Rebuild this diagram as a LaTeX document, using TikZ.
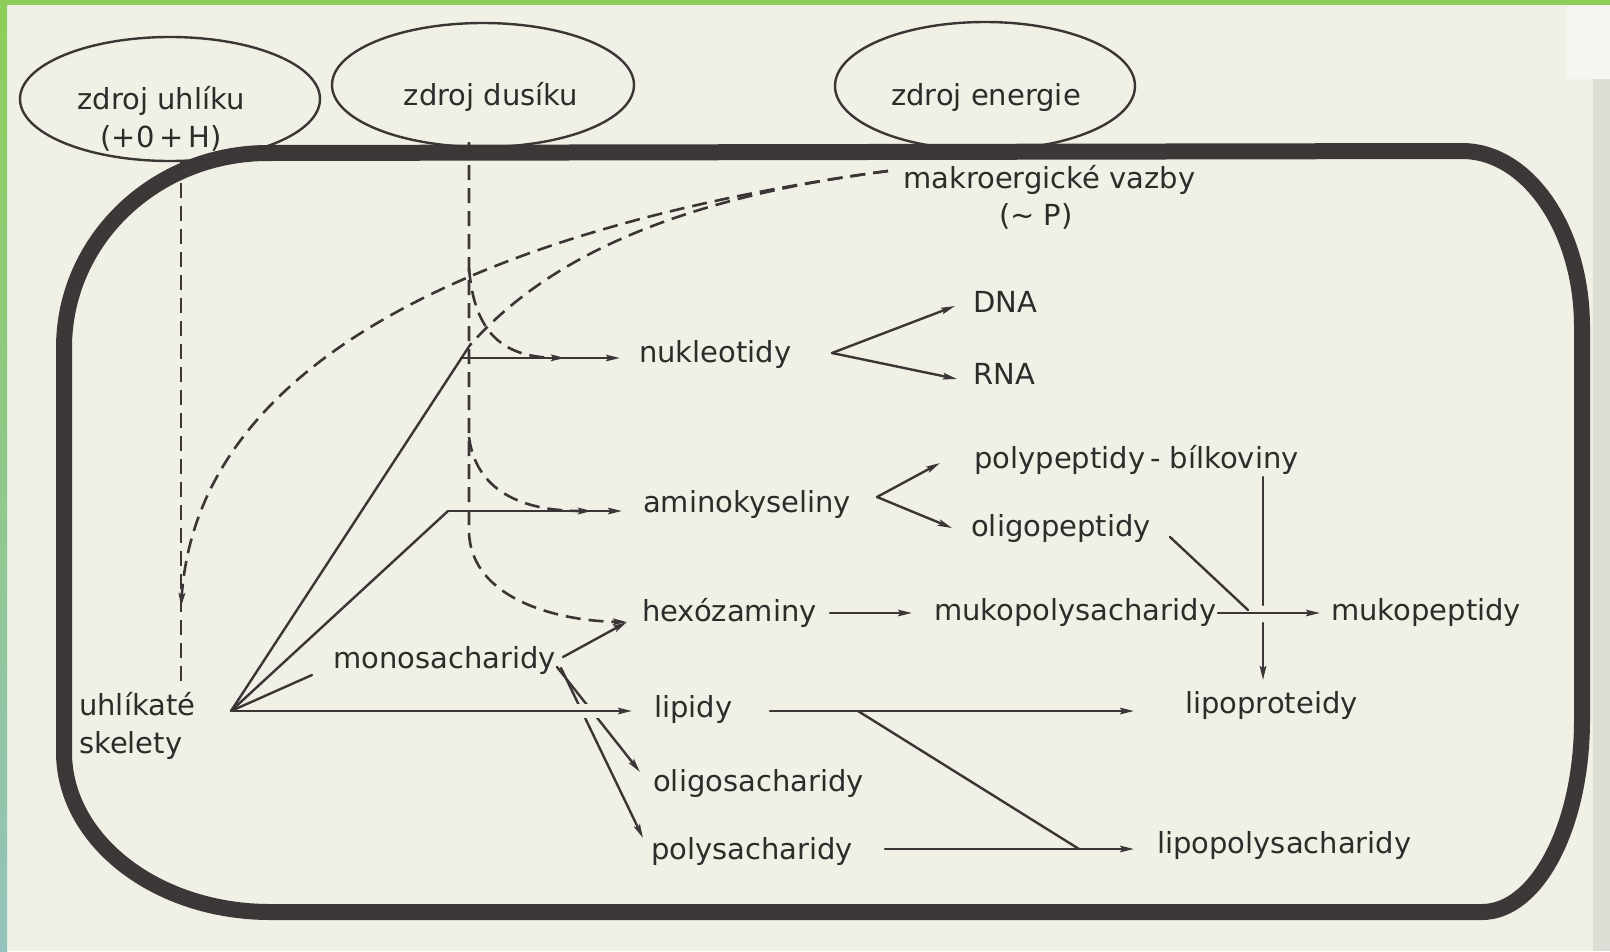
\documentclass[tikz,border=0pt]{standalone}
\usepackage{fontspec}
\setmainfont{DejaVu Sans}
\usetikzlibrary{arrows.meta,shapes.geometric}
\definecolor{bg}{HTML}{F0F0E6}
\definecolor{ink}{HTML}{3A3636}
\definecolor{cellc}{HTML}{3C3838}
\definecolor{txt}{HTML}{2E2B2B}
\definecolor{frameg}{HTML}{8DCE58}
\definecolor{framet}{HTML}{93C2BC}
\definecolor{edgec}{HTML}{DCDDD4}
\definecolor{edgel}{HTML}{F6F6F0}
\begin{document}
\begin{tikzpicture}[x=1pt,y=-1pt,
  lbl/.style={inner sep=0pt, anchor=west, text=txt, font=\fontsize{29}{38}\selectfont, text height=22pt, text depth=7pt},
  lbltwo/.style={inner sep=0pt, text=txt, font=\fontsize{29}{38}\selectfont},
  ln/.style={draw=ink, line width=2.4pt, line cap=round},
  flow/.style={ln, -{Stealth[length=14pt,width=6.5pt,inset=2.5pt]}},
  dln/.style={draw=ink, line width=2.6pt, dash pattern=on 15pt off 8pt},
  dflow/.style={dln, -{Stealth[length=14pt,width=6.5pt,inset=2.5pt]}},
  src/.style={ellipse, draw=ink, line width=2.4pt, inner sep=0pt},
  cell/.style={draw=cellc, line width=16pt, line join=round}
]
\useasboundingbox (0,0) rectangle (1610,951);
\fill[bg] (0,0) rectangle (1610,951);
\fill[edgec] (1593,0) rectangle (1610,951);
\fill[edgel] (1567,0) rectangle (1610,79);
\fill[frameg] (0,0) rectangle (1610,5);
\shade[top color=frameg, bottom color=framet] (0,0) rectangle (7,951);

% cell outline
\draw[cell] (64,348) .. controls (64,240) and (155,153) .. (268,153)
  -- (1462,151) .. controls (1528,151) and (1582,230) .. (1582,327)
  -- (1582,720) .. controls (1582,826) and (1537,912) .. (1482,912)
  -- (270,912) .. controls (156,912) and (64,840) .. (64,752) -- cycle;

% sources
\node[src, minimum width=300pt, minimum height=124pt] (E1) at (170,99) {};
\node[src, minimum width=302pt, minimum height=124pt] (E2) at (483,85) {};
\node[src, minimum width=300pt, minimum height=128pt] (E3) at (985,86) {};
\node[lbltwo, align=center] (tC) at (161,119) {zdroj uhlíku\\(+0\,+\,H)};
\node[lbltwo] (tN) at (491,97) {zdroj dusíku};
\node[lbltwo] (tE) at (986,97) {zdroj energie};

% labels
\node[lbl] (mak) at (903,181) {makroergické vazby};
\node[lbltwo] (makP) at (1036,216) {(∼ P)};
\node[lbl] (nuk) at (639,355) {nukleotidy};
\node[lbl] (dna) at (973,305) {DNA};
\node[lbl] (rna) at (973,377) {RNA};
\node[lbl] (ppep) at (974,461) {polypeptidy\,- bílkoviny};
\node[lbl] (amino) at (643,505) {aminokyseliny};
\node[lbl] (opep) at (971,529) {oligopeptidy};
\node[lbl] (hexo) at (642,614) {hexózaminy};
\node[lbl] (mpol) at (934,613) {mukopolysacharidy};
\node[lbl] (mpep) at (1331,613) {mukopeptidy};
\node[lbl] (mono) at (333,661) {monosacharidy};
\node[lbl] (lip) at (654,710) {lipidy};
\node[lbl] (lprot) at (1185,706) {lipoproteidy};
\node[lbl] (osach) at (653,784) {oligosacharidy};
\node[lbl] (psach) at (651,852) {polysacharidy};
\node[lbl] (lpsach) at (1157,846) {lipopolysacharidy};
\node[lbltwo, align=left, anchor=west] (skel) at (79,726) {uhlíkaté\\skelety};

% junction coordinates
\coordinate (hub) at (231,711);
\coordinate (Ctop) at (181,160);
\coordinate (Cbot) at (181,683);
\coordinate (Cin) at (181,607);
\coordinate (Ntop) at (469,142);
\coordinate (Nbend) at (469,532);
\coordinate (Nnuk) at (469,268);
\coordinate (Nami) at (469,437);
\coordinate (Jn) at (470,345);
\coordinate (Jnh) at (461,358);
\coordinate (Ja) at (448,511);
\coordinate (Mk) at (888,171);
\coordinate (hubM) at (312,675);
\coordinate (monoR) at (563,657);
\coordinate (monoA) at (557,667);
\coordinate (monoB) at (561,668);
\coordinate (hexT) at (627,622);
\coordinate (oT) at (640,772);
\coordinate (pT) at (643,838);
\coordinate (NJ) at (832,353);
\coordinate (AJ) at (877,497);
\coordinate (Ls) at (770,711);
\coordinate (LJ) at (858,711);
\coordinate (LT) at (1134,711);
\coordinate (Ps) at (885,849);
\coordinate (PJ) at (1079,849);
\coordinate (PT) at (1134,849);
\coordinate (Hs) at (830,613);
\coordinate (HT) at (912,613);
\coordinate (Ms) at (1218,613);
\coordinate (MT) at (1320,613);
\coordinate (Vt) at (1263,477);
\coordinate (Vm) at (1263,605);
\coordinate (Vd) at (1263,623);
\coordinate (VT) at (1263,680);
\coordinate (Os) at (1170,537);
\coordinate (OJ) at (1248,610);

% dashed (carbon, nitrogen, energy)
\draw[dln] (Ctop) -- (Cbot);
\draw[dflow] (Mk) .. controls (560,215) and (200,330) .. (Cin);
\draw[dln] (Mk) .. controls (620,205) and (520,290) .. (Jn);
\draw[dflow] (Ntop) -- (Nbend) .. controls (471,600) and (560,621) .. (hexT);
\draw[dflow] (Nnuk) .. controls (474,330) and (500,357) .. (565,358);
\draw[dflow] (Nami) .. controls (476,490) and (520,511) .. (592,511);

% carbon skeletons
\draw[ln] (hub) -- (Jn);
\draw[flow, shorten >=19pt] (Jnh) -- (Jnh -| nuk.west);
\draw[ln] (hub) -- (Ja);
\draw[flow, shorten >=21pt] (Ja) -- (Ja -| amino.west);
\draw[ln] (hub) -- (hubM);

% monosaccharides
\draw[flow] (monoR) -- (hexT);
\draw[flow] (monoA) -- (oT);
\draw[flow] (monoB) -- (pT);
\fill[bg] (548,704) rectangle (612,718);
\draw[flow] (hub) -- (632,711);

% nucleotides, amino acids
\draw[flow] (NJ) -- (955,306);
\draw[flow] (NJ) -- (957,379);
\draw[flow] (AJ) -- (940,463);
\draw[flow] (AJ) -- (952,528);

% lipids
\draw[flow] (Ls) -- (LT);
\draw[ln] (LJ) -- (PJ);
\draw[flow] (Ps) -- (PT);

% hexosamines, mucopeptides
\draw[flow] (Hs) -- (HT);
\draw[flow] (Ms) -- (MT);
\draw[ln] (Vt) -- (Vm);
\draw[flow] (Vd) -- (VT);
\draw[ln] (Os) -- (OJ);
\end{tikzpicture}
\end{document}
